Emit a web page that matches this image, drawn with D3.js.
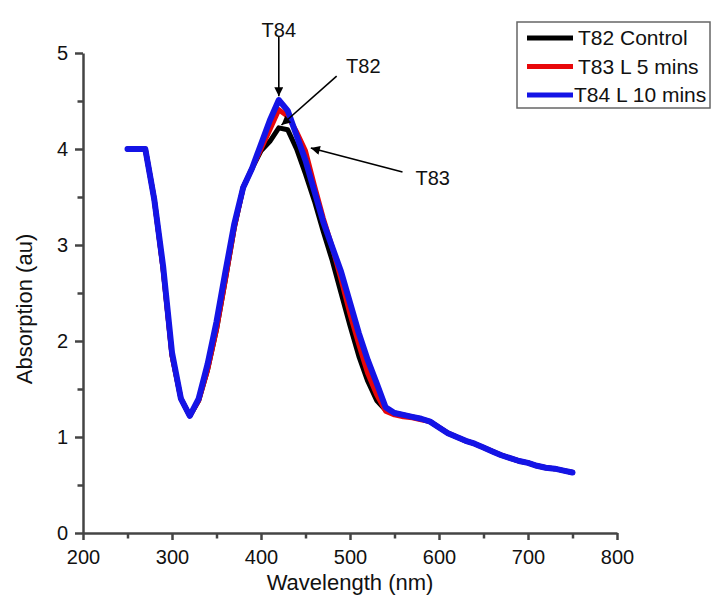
<!DOCTYPE html>
<html>

<head>
  <title>Absorption spectra</title>
  <script src="https://cdn.jsdelivr.net/npm/d3@7"></script>
  <style>
    body {
      margin: 0;
      background: #fff;
    }

    text {
      font-family: "Liberation Sans", Arial, sans-serif;
      fill: #111;
    }

    .axis path,
    .axis line {
      stroke: #444;
      stroke-width: 2.5px;
    }

    .axis .tick text {
      font-size: 20px;
    }

    .series {
      fill: none;
      stroke-linejoin: round;
      stroke-linecap: round;
    }
  </style>
</head>

<body>
  <svg id="chart" width="713" height="596"></svg>

  <script type="text/javascript">
    // wavelengths (nm), one reading every 10 nm
    var wavelength = [250, 260, 270, 280, 290, 300, 310, 320, 330, 340, 350, 360, 370, 380, 390, 400,
      410, 420, 430, 440, 450, 460, 470, 480, 490, 500, 510, 520, 530, 540, 550, 560, 570, 580, 590,
      600, 610, 620, 630, 640, 650, 660, 670, 680, 690, 700, 710, 720, 730, 740, 750];

    var t82 = [4.00, 4.00, 4.00, 3.48, 2.75, 1.85, 1.40, 1.22, 1.38, 1.70, 2.12, 2.64, 3.18, 3.60, 3.80, 3.98,
      4.08, 4.22, 4.20, 4.00, 3.74, 3.46, 3.14, 2.84, 2.50, 2.16, 1.84, 1.58, 1.38, 1.28, 1.25, 1.23, 1.21, 1.19, 1.16,
      1.10, 1.04, 1.00, 0.96, 0.93, 0.89, 0.85, 0.81, 0.78, 0.75, 0.73, 0.70, 0.68, 0.67, 0.65, 0.63];

    var t83 = [4.00, 4.00, 4.00, 3.48, 2.75, 1.85, 1.40, 1.22, 1.38, 1.70, 2.12, 2.64, 3.18, 3.60, 3.80, 4.00,
      4.20, 4.41, 4.34, 4.18, 3.98, 3.62, 3.28, 2.98, 2.64, 2.28, 1.96, 1.66, 1.44, 1.27, 1.23, 1.21, 1.20, 1.18, 1.16,
      1.10, 1.04, 1.00, 0.96, 0.93, 0.89, 0.85, 0.81, 0.78, 0.75, 0.73, 0.70, 0.68, 0.67, 0.65, 0.63];

    var t84 = [4.00, 4.00, 4.00, 3.48, 2.78, 1.88, 1.40, 1.22, 1.40, 1.76, 2.20, 2.72, 3.22, 3.60, 3.80, 4.05,
      4.30, 4.51, 4.40, 4.14, 3.88, 3.56, 3.24, 2.98, 2.72, 2.40, 2.08, 1.80, 1.56, 1.31, 1.25, 1.23, 1.21, 1.19, 1.16,
      1.10, 1.04, 1.00, 0.96, 0.93, 0.89, 0.85, 0.81, 0.78, 0.75, 0.73, 0.70, 0.68, 0.67, 0.65, 0.63];

    var seriesNames = ['T82 Control', 'T83 L 5 mins', 'T84 L 10 mins'];
    var seriesColors = ['#000000', '#e8070a', '#1414e6'];

    var xTicks = [200, 300, 400, 500, 600, 700, 800];
    var xMinor = [250, 350, 450, 550, 650, 750];
    var yTicks = [0, 1, 2, 3, 4, 5];
    var yMinor = [0.5, 1.5, 2.5, 3.5, 4.5];

    // arrow annotations in data units: label position, arrow start, arrow tip
    var notes = [
      { label: 'T84', lx: 420, ly: 5.24, x1: 420, y1: 5.17, x2: 420, y2: 4.55 },
      { label: 'T82', lx: 515, ly: 4.86, x1: 485, y1: 4.76, x2: 423, y2: 4.25 },
      { label: 'T83', lx: 593, ly: 3.70, x1: 559, y1: 3.76, x2: 456, y2: 4.01 }
    ];

    var svg = d3.select('#chart');

    var x = d3.scaleLinear().domain([200, 800]).range([83, 617]);
    var y = d3.scaleLinear().domain([0, 5]).range([533, 53]);

    // minor ticks first, then the labelled axes on top
    svg.append('g')
      .attr('class', 'axis')
      .attr('transform', 'translate(0,533)')
      .call(d3.axisBottom(x).tickValues(xMinor).tickSize(5.5).tickFormat(''))
      .select('.domain').remove();

    svg.append('g')
      .attr('class', 'axis')
      .attr('transform', 'translate(83,0)')
      .call(d3.axisLeft(y).tickValues(yMinor).tickSize(5.5).tickFormat(''))
      .select('.domain').remove();

    svg.append('g')
      .attr('class', 'axis')
      .attr('transform', 'translate(0,533)')
      .call(d3.axisBottom(x).tickValues(xTicks).tickSize(7).tickSizeOuter(0).tickPadding(10));

    svg.append('g')
      .attr('class', 'axis')
      .attr('transform', 'translate(83,0)')
      .call(d3.axisLeft(y).tickValues(yTicks).tickFormat(d3.format('d'))
        .tickSize(8).tickSizeOuter(0).tickPadding(7));

    svg.append('text')
      .attr('x', 350)
      .attr('y', 590)
      .attr('text-anchor', 'middle')
      .style('font-size', '22px')
      .text('Wavelength (nm)');

    svg.append('text')
      .attr('transform', 'translate(32,309) rotate(-90)')
      .attr('text-anchor', 'middle')
      .style('font-size', '22px')
      .text('Absorption (au)');

    // spectra
    var line = d3.line()
      .x(function (d) { return x(d[0]); })
      .y(function (d) { return y(d[1]); });

    [t82, t83, t84].forEach(function (vals, i) {
      svg.append('path')
        .attr('class', 'series')
        .attr('d', line(wavelength.map(function (w, j) { return [w, vals[j]]; })))
        .attr('stroke', seriesColors[i])
        .attr('stroke-width', i == 2 ? 6 : 5);
    });

    // arrows
    svg.append('defs').append('marker')
      .attr('id', 'head')
      .attr('viewBox', '0 0 10 10')
      .attr('refX', 10)
      .attr('refY', 5)
      .attr('markerWidth', 11)
      .attr('markerHeight', 9)
      .attr('markerUnits', 'userSpaceOnUse')
      .attr('orient', 'auto')
      .append('path')
      .attr('d', 'M0,0L10,5L0,10Z')
      .attr('fill', '#000');

    notes.forEach(function (n) {
      svg.append('line')
        .attr('x1', x(n.x1)).attr('y1', y(n.y1))
        .attr('x2', x(n.x2)).attr('y2', y(n.y2))
        .attr('stroke', '#000')
        .attr('stroke-width', 1.6)
        .attr('marker-end', 'url(#head)');
      svg.append('text')
        .attr('x', x(n.lx))
        .attr('y', y(n.ly))
        .attr('text-anchor', 'middle')
        .attr('dy', '0.35em')
        .style('font-size', '20px')
        .text(n.label);
    });

    // legend
    var legend = svg.append('g').attr('transform', 'translate(517,22)');
    legend.append('rect')
      .attr('width', 193)
      .attr('height', 86)
      .attr('fill', '#fff')
      .attr('stroke', '#666')
      .attr('stroke-width', 1.5);

    seriesNames.forEach(function (name, i) {
      var ly = 16 + i * 28.5;
      legend.append('line')
        .attr('x1', 10).attr('x2', 56)
        .attr('y1', ly).attr('y2', ly)
        .attr('stroke', seriesColors[i])
        .attr('stroke-width', 5);
      legend.append('text')
        .attr('x', i == 2 ? 57 : 61)
        .attr('y', ly)
        .attr('dy', '0.35em')
        .style('font-size', '21px')
        .text(name);
    });
  </script>
</body>

</html>
